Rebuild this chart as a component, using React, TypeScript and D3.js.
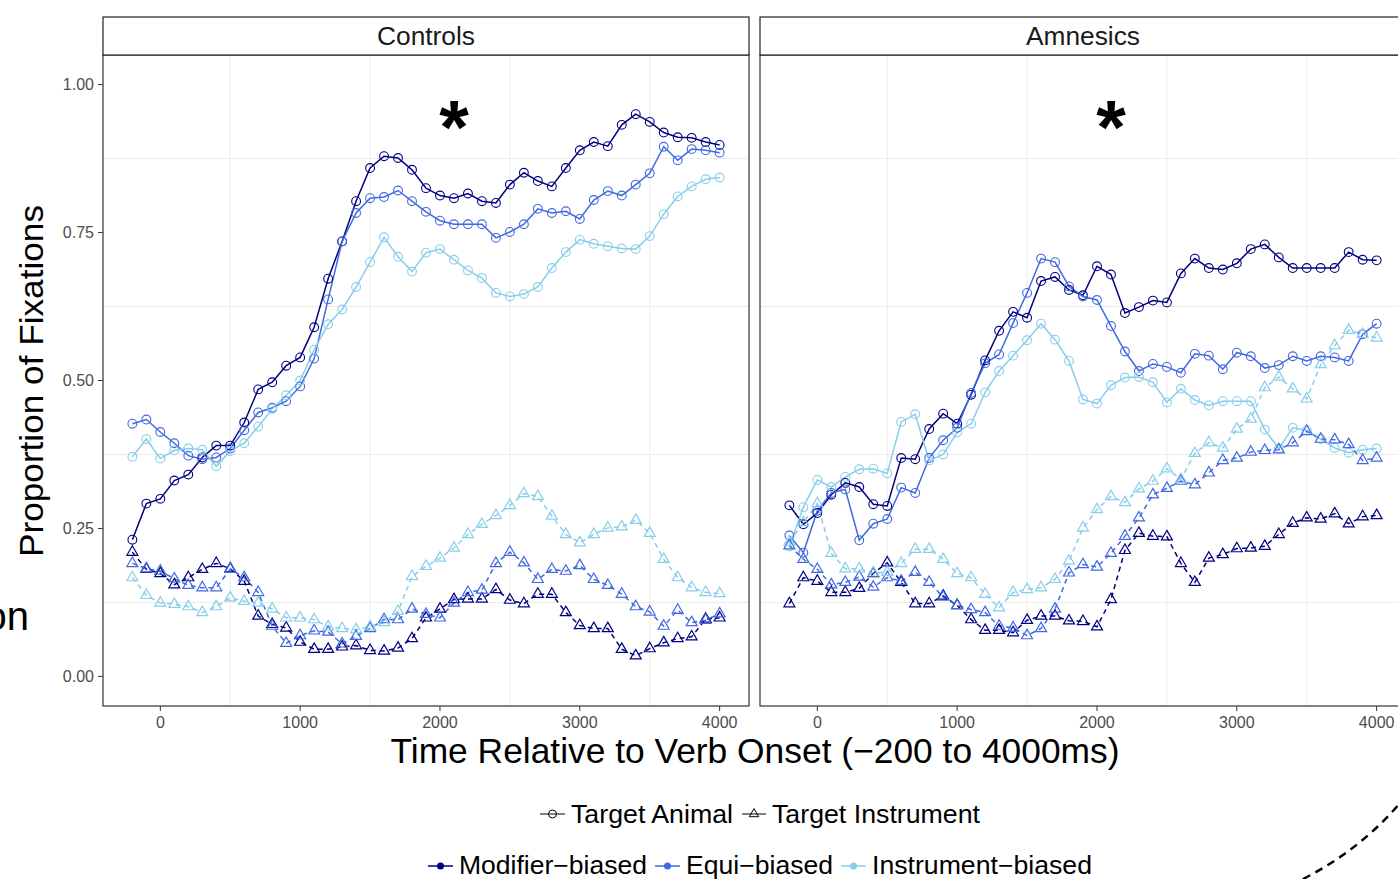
import React from 'react';
import * as d3 from 'd3';

// ---------- data ----------
const times: number[] = d3.range(-200, 4001, 100);
const panelNames = ['Controls', 'Amnesics'];
const biasLabels = ['Modifier\u2212biased', 'Equi\u2212biased', 'Instrument\u2212biased'];
const targetLabels = ['Target Animal', 'Target Instrument'];
const biasColors = ['#000080', '#4169E1', '#87CEEB'];
const xTicks = [0, 1000, 2000, 3000, 4000];
const xMinorGrid = [500, 1500, 2500, 3500];
const yTicks = [0, 0.25, 0.5, 0.75, 1];
const yTickLabels = ['0.00', '0.25', '0.50', '0.75', '1.00'];
const yMinorGrid = [0.125, 0.375, 0.625, 0.875];
const starNotes = [{ panel: 0, x: 2100, y: 0.885 }, { panel: 1, x: 2100, y: 0.885 }];

// Controls
const ctrlModAnimal = [0.231,0.292,0.30,0.331,0.341,0.37,0.39,0.39,0.429,0.485,0.497,0.525,0.539,0.59,0.672,0.735,0.803,0.859,0.879,0.876,0.856,0.825,0.8125,0.808,0.816,0.803,0.80,0.831,0.851,0.837,0.828,0.859,0.889,0.903,0.896,0.932,0.95,0.937,0.919,0.911,0.91,0.903,0.898];
const ctrlEquiAnimal = [0.427,0.434,0.413,0.394,0.373,0.367,0.37,0.385,0.416,0.446,0.454,0.465,0.49,0.537,0.637,0.735,0.783,0.808,0.81,0.821,0.803,0.785,0.77,0.764,0.764,0.764,0.741,0.751,0.764,0.79,0.783,0.786,0.773,0.805,0.82,0.8125,0.831,0.85,0.895,0.872,0.891,0.889,0.885];
const ctrlInstAnimal = [0.371,0.401,0.368,0.382,0.385,0.383,0.355,0.381,0.394,0.422,0.452,0.475,0.50,0.552,0.595,0.62,0.658,0.70,0.742,0.709,0.684,0.716,0.722,0.704,0.686,0.673,0.648,0.642,0.646,0.658,0.69,0.717,0.738,0.731,0.727,0.723,0.722,0.744,0.781,0.811,0.828,0.84,0.843];
const ctrlModInstr = [0.21,0.181,0.174,0.155,0.167,0.181,0.191,0.182,0.161,0.102,0.088,0.082,0.058,0.046,0.046,0.05,0.052,0.044,0.043,0.048,0.064,0.099,0.114,0.13,0.131,0.131,0.147,0.129,0.123,0.139,0.139,0.108,0.086,0.081,0.081,0.046,0.035,0.047,0.057,0.064,0.067,0.097,0.099];
const ctrlEquiInstr = [0.191,0.182,0.178,0.165,0.154,0.15,0.15,0.181,0.167,0.142,0.085,0.056,0.069,0.077,0.075,0.055,0.068,0.081,0.096,0.096,0.114,0.105,0.099,0.124,0.142,0.146,0.191,0.21,0.192,0.164,0.181,0.178,0.1875,0.164,0.154,0.139,0.118,0.109,0.085,0.112,0.091,0.095,0.106];
const ctrlInstInstr = [0.167,0.137,0.124,0.122,0.118,0.108,0.118,0.133,0.127,0.124,0.114,0.099,0.099,0.096,0.084,0.081,0.079,0.084,0.091,0.11,0.169,0.186,0.2,0.217,0.24,0.257,0.272,0.289,0.309,0.304,0.271,0.24,0.226,0.24,0.251,0.253,0.264,0.242,0.198,0.167,0.15,0.142,0.14];

// Amnesics
const amnModAnimal = [0.289,0.257,0.276,0.307,0.327,0.32,0.291,0.288,0.369,0.367,0.418,0.444,0.427,0.476,0.534,0.584,0.616,0.606,0.668,0.675,0.653,0.644,0.693,0.679,0.614,0.624,0.635,0.632,0.681,0.706,0.69,0.6875,0.698,0.722,0.73,0.708,0.69,0.69,0.69,0.69,0.717,0.704,0.703];
const amnEquiAnimal = [0.238,0.209,0.28,0.31,0.316,0.23,0.258,0.266,0.319,0.31,0.369,0.399,0.42,0.479,0.529,0.544,0.597,0.648,0.706,0.70,0.659,0.642,0.636,0.592,0.549,0.516,0.528,0.523,0.513,0.545,0.542,0.519,0.547,0.541,0.521,0.526,0.541,0.533,0.541,0.539,0.533,0.578,0.596];
const amnInstAnimal = [0.22,0.286,0.332,0.32,0.337,0.35,0.351,0.343,0.43,0.443,0.365,0.375,0.412,0.427,0.48,0.516,0.542,0.568,0.596,0.569,0.533,0.468,0.461,0.492,0.505,0.506,0.497,0.463,0.486,0.467,0.458,0.465,0.465,0.465,0.417,0.385,0.42,0.416,0.401,0.386,0.378,0.383,0.385];
const amnModInstr = [0.123,0.167,0.161,0.142,0.142,0.149,0.174,0.192,0.159,0.123,0.123,0.136,0.12,0.096,0.078,0.078,0.074,0.095,0.102,0.102,0.094,0.093,0.084,0.13,0.213,0.242,0.237,0.236,0.191,0.159,0.2,0.206,0.216,0.217,0.22,0.24,0.259,0.268,0.266,0.275,0.258,0.27,0.272];
const amnEquiInstr = [0.221,0.198,0.181,0.155,0.159,0.168,0.151,0.167,0.161,0.176,0.159,0.134,0.12,0.113,0.108,0.085,0.082,0.069,0.081,0.114,0.175,0.189,0.185,0.208,0.237,0.268,0.307,0.318,0.33,0.324,0.344,0.365,0.369,0.379,0.382,0.383,0.395,0.414,0.401,0.40,0.392,0.365,0.369];
const amnInstInstr = [0.227,0.26,0.292,0.208,0.182,0.182,0.175,0.176,0.191,0.215,0.215,0.198,0.174,0.167,0.139,0.116,0.142,0.147,0.15,0.164,0.195,0.251,0.282,0.304,0.294,0.317,0.33,0.351,0.333,0.377,0.395,0.386,0.418,0.435,0.488,0.506,0.486,0.469,0.527,0.559,0.585,0.578,0.572];

const seriesList = [
  { panel: 0, bias: 0, target: 0, values: ctrlModAnimal },
  { panel: 0, bias: 1, target: 0, values: ctrlEquiAnimal },
  { panel: 0, bias: 2, target: 0, values: ctrlInstAnimal },
  { panel: 0, bias: 0, target: 1, values: ctrlModInstr },
  { panel: 0, bias: 1, target: 1, values: ctrlEquiInstr },
  { panel: 0, bias: 2, target: 1, values: ctrlInstInstr },
  { panel: 1, bias: 0, target: 0, values: amnModAnimal },
  { panel: 1, bias: 1, target: 0, values: amnEquiAnimal },
  { panel: 1, bias: 2, target: 0, values: amnInstAnimal },
  { panel: 1, bias: 0, target: 1, values: amnModInstr },
  { panel: 1, bias: 1, target: 1, values: amnEquiInstr },
  { panel: 1, bias: 2, target: 1, values: amnInstInstr },
];

// ---------- layout ----------
const W = 1398;
const H = 879;
const panelLefts = [103, 760];
const panelW = 646;
const panelTop = 55;
const panelBottom = 706;
const stripTop = 17;
const FONT = '"Liberation Sans", Arial, Helvetica, sans-serif';

const yScale = d3.scaleLinear().domain([-0.05, 1.05]).range([panelBottom, panelTop]);
const xScales = panelLefts.map((l) =>
  d3.scaleLinear().domain([-410, 4210]).range([l, l + panelW])
);

const triPath = d3.symbol().type(d3.symbolTriangle).size(52)() as string;
const triKey = d3.symbol().type(d3.symbolTriangle).size(38)() as string;

export default function App() {
  return (
    <svg
      width={W}
      height={H}
      viewBox={`0 0 ${W} ${H}`}
      style={{ position: 'absolute', left: 0, top: 0, background: '#fff' }}
      fontFamily={FONT}
    >
      <defs>
        {panelLefts.map((l, i) => (
          <clipPath id={`clip${i}`} key={i}>
            <rect x={l} y={panelTop} width={panelW} height={panelBottom - panelTop} />
          </clipPath>
        ))}
      </defs>
      <rect x={0} y={0} width={W} height={H} fill="#fff" />

      {panelNames.map((name, pi) => {
        const xs = xScales[pi];
        const l = panelLefts[pi];
        const line = d3
          .line<number>()
          .x((_, i) => xs(times[i]))
          .y((d) => yScale(d));
        const ser = seriesList.filter((s) => s.panel === pi);
        return (
          <g key={name}>
            {xMinorGrid.map((g) => (
              <line key={'gx' + g} x1={xs(g)} x2={xs(g)} y1={panelTop} y2={panelBottom} stroke="#ebebeb" strokeWidth={1} />
            ))}
            {yMinorGrid.map((g) => (
              <line key={'gy' + g} x1={l} x2={l + panelW} y1={yScale(g)} y2={yScale(g)} stroke="#ebebeb" strokeWidth={1} />
            ))}
            <g clipPath={`url(#clip${pi})`}>
              {ser.map((s, si) => (
                <path
                  key={'l' + si}
                  d={line(s.values) as string}
                  fill="none"
                  stroke={biasColors[s.bias]}
                  strokeWidth={1.5}
                  strokeDasharray={s.target === 1 ? '5,4' : undefined}
                />
              ))}
              {ser.map((s, si) =>
                s.values.map((v, i) =>
                  s.target === 0 ? (
                    <circle
                      key={`c${si}-${i}`}
                      cx={xs(times[i])}
                      cy={yScale(v)}
                      r={4.4}
                      fill="none"
                      stroke={biasColors[s.bias]}
                      strokeWidth={1.1}
                    />
                  ) : (
                    <path
                      key={`t${si}-${i}`}
                      d={triPath}
                      transform={`translate(${xs(times[i])},${yScale(v)})`}
                      fill="none"
                      stroke={biasColors[s.bias]}
                      strokeWidth={1.2}
                    />
                  )
                )
              )}
              {starNotes
                .filter((s) => s.panel === pi)
                .map((s, k) => (
                  <text key={'star' + k} x={xs(s.x)} y={yScale(s.y)} textAnchor="middle" fontSize={76} fontWeight="bold" fill="#000">
                    *
                  </text>
                ))}
            </g>
            <rect x={l} y={panelTop} width={panelW} height={panelBottom - panelTop} fill="none" stroke="#333" strokeWidth={1.2} />
            <rect x={l} y={stripTop} width={panelW} height={panelTop - stripTop} fill="#fff" stroke="#222" strokeWidth={1.2} />
            <text x={l + panelW / 2} y={(stripTop + panelTop) / 2} dy="0.36em" textAnchor="middle" fontSize={25} textLength={pi === 0 ? 98 : 114} lengthAdjust="spacingAndGlyphs" fill="#1a1a1a">
              {name}
            </text>
            {xTicks.map((t) => (
              <g key={'xt' + t}>
                <line x1={xs(t)} x2={xs(t)} y1={panelBottom} y2={panelBottom + 5} stroke="#333" strokeWidth={1} />
                <text x={xs(t)} y={panelBottom + 22} textAnchor="middle" fontSize={16} fill="#4d4d4d">
                  {t}
                </text>
              </g>
            ))}
            {pi === 0 &&
              yTicks.map((t, k) => (
                <g key={'yt' + t}>
                  <line x1={l - 5} x2={l} y1={yScale(t)} y2={yScale(t)} stroke="#333" strokeWidth={1} />
                  <text x={l - 9} y={yScale(t)} dy="0.35em" textAnchor="end" fontSize={16} fill="#4d4d4d">
                    {yTickLabels[k]}
                  </text>
                </g>
              ))}
          </g>
        );
      })}

      <text x={755} y={763} textAnchor="middle" fontSize={35} textLength={729} lengthAdjust="spacingAndGlyphs" fill="#000">
        Time Relative to Verb Onset (−200 to 4000ms)
      </text>
      <text
        transform={`translate(43,${(205 + 557) / 2}) rotate(-90)`}
        textAnchor="middle"
        fontSize={34}
        textLength={352}
        lengthAdjust="spacingAndGlyphs"
        fill="#000"
      >
        Proportion of Fixations
      </text>

      <g>
        <line x1={540} x2={565} y1={814} y2={814} stroke="#000" strokeWidth={1} />
        <circle cx={552.5} cy={814} r={4} fill="none" stroke="#000" strokeWidth={1} />
        <text x={571} y={823} fontSize={26} textLength={162} lengthAdjust="spacingAndGlyphs" fill="#000">
          {targetLabels[0]}
        </text>
        <line x1={742} x2={766} y1={814} y2={814} stroke="#000" strokeWidth={1} />
        <path d={triKey} transform="translate(754,814)" fill="none" stroke="#000" strokeWidth={1} />
        <text x={772} y={823} fontSize={26} textLength={208} lengthAdjust="spacingAndGlyphs" fill="#000">
          {targetLabels[1]}
        </text>
      </g>
      <g>
        {[
          { kx: 428, tx: 459, tw: 188 },
          { kx: 655, tx: 686, tw: 147 },
          { kx: 841, tx: 872, tw: 220 },
        ].map((p, i) => (
          <g key={'lg' + i}>
            <line x1={p.kx} x2={p.kx + 25} y1={866} y2={866} stroke={biasColors[i]} strokeWidth={1.5} />
            <circle cx={p.kx + 12.5} cy={866} r={3.5} fill={biasColors[i]} />
            <text x={p.tx} y={874} fontSize={25} textLength={p.tw} lengthAdjust="spacingAndGlyphs" fill="#000">
              {biasLabels[i]}
            </text>
          </g>
        ))}
      </g>

      <text x={29} y={630} textAnchor="end" fontSize={40} fill="#000">
        on
      </text>
      <path d="M1303,879 Q1360,850 1400,803" fill="none" stroke="#000" strokeWidth={2.5} strokeDasharray="8,6" />
    </svg>
  );
}
